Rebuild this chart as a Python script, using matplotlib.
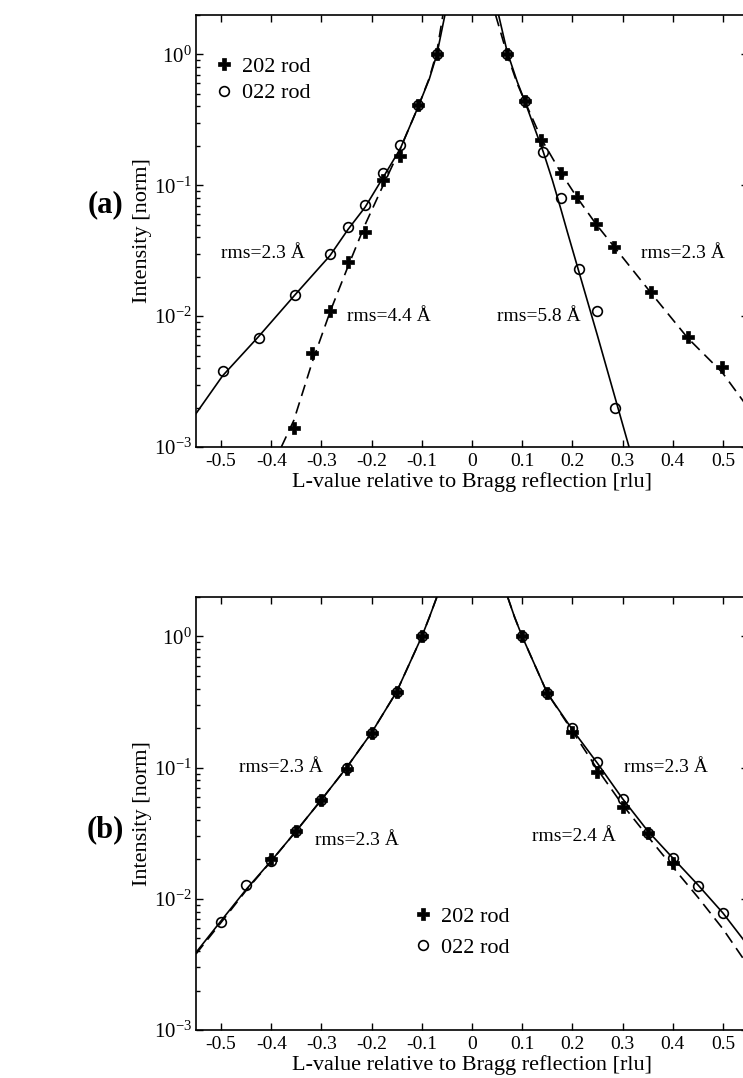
import numpy as np
import matplotlib
matplotlib.use('Agg')
import matplotlib.pyplot as plt
from matplotlib.ticker import LogLocator, FixedLocator, FormatStrFormatter, NullFormatter

plt.rcParams['font.family'] = ['Liberation Serif', 'DejaVu Serif']
plt.rcParams['mathtext.fontset'] = 'custom'
plt.rcParams['mathtext.rm'] = 'Liberation Serif'
plt.rcParams['mathtext.it'] = 'Liberation Serif:italic'
plt.rcParams['axes.unicode_minus'] = False

# ---- panel (a): measured points ----
a_022_x = [-0.497, -0.425, -0.353, -0.283, -0.247, -0.213, -0.177, -0.143, -0.107, -0.07,
           0.07, 0.105, 0.142, 0.177, 0.213, 0.25, 0.285]
a_022_y = [0.0038, 0.0068, 0.0146, 0.030, 0.048, 0.071, 0.123, 0.203, 0.41, 1.0,
           1.0, 0.44, 0.18, 0.080, 0.023, 0.0109, 0.0020]
a_202_x = [-0.355, -0.318, -0.282, -0.247, -0.213, -0.177, -0.143, -0.107, -0.07,
           0.07, 0.105, 0.137, 0.177, 0.21, 0.248, 0.283, 0.357, 0.43, 0.499]
a_202_y = [0.0014, 0.0052, 0.011, 0.026, 0.044, 0.11, 0.166, 0.41, 1.0,
           1.0, 0.44, 0.222, 0.123, 0.082, 0.051, 0.034, 0.0153, 0.0069, 0.0041]

# ---- panel (a): fitted curves ----
a_fit022_left_x = [-0.55, -0.497, -0.425, -0.353, -0.283, -0.247, -0.213, -0.177, -0.143, -0.107, -0.085, -0.07, -0.054]
a_fit022_left_y = [0.0018, 0.0035, 0.0070, 0.0145, 0.029, 0.046, 0.068, 0.115, 0.19, 0.40, 0.65, 1.0, 2.0]
a_fit202_left_x = [-0.38, -0.355, -0.318, -0.282, -0.247, -0.213, -0.177, -0.143, -0.107, -0.085, -0.07, -0.058]
a_fit202_left_y = [0.001, 0.0016, 0.0045, 0.011, 0.024, 0.05, 0.10, 0.19, 0.40, 0.66, 1.05, 2.0]
a_fit022_right_x = [0.053, 0.07, 0.09, 0.105, 0.142, 0.16, 0.177, 0.19, 0.25, 0.313]
a_fit022_right_y = [2.0, 1.05, 0.62, 0.44, 0.18, 0.11, 0.066, 0.044, 0.0071, 0.001]
a_fit202_right_x = [0.047, 0.07, 0.09, 0.105, 0.14, 0.177, 0.21, 0.248, 0.283, 0.357, 0.43, 0.499, 0.55]
a_fit202_right_y = [2.0, 1.0, 0.6, 0.44, 0.22, 0.125, 0.08, 0.05, 0.034, 0.015, 0.0068, 0.0037, 0.0020]

# ---- panel (b): measured points ----
b_022_x = [-0.5, -0.45, -0.4, -0.35, -0.3, -0.25, -0.2, -0.15, -0.1,
           0.1, 0.15, 0.2, 0.25, 0.3, 0.35, 0.4, 0.45, 0.5]
b_022_y = [0.0067, 0.0128, 0.0195, 0.033, 0.057, 0.10, 0.185, 0.38, 1.0,
           1.0, 0.37, 0.199, 0.111, 0.058, 0.032, 0.0204, 0.0126, 0.0078]
b_202_x = [-0.4, -0.35, -0.3, -0.25, -0.2, -0.15, -0.1,
           0.1, 0.15, 0.2, 0.25, 0.3, 0.35, 0.4]
b_202_y = [0.020, 0.033, 0.057, 0.097, 0.185, 0.38, 1.0,
           1.0, 0.37, 0.187, 0.093, 0.050, 0.032, 0.0187]

# ---- panel (b): fitted curves ----
b_fit022_left_x = [-0.55, -0.5, -0.45, -0.4, -0.35, -0.3, -0.25, -0.2, -0.15, -0.1, -0.085, -0.07]
b_fit022_left_y = [0.0039, 0.0068, 0.0118, 0.0195, 0.033, 0.057, 0.10, 0.185, 0.38, 1.0, 1.4, 2.0]
b_fit202_left_x = [-0.55, -0.5, -0.45, -0.4, -0.35, -0.3, -0.25, -0.2, -0.15, -0.1, -0.085, -0.07]
b_fit202_left_y = [0.0038, 0.0066, 0.0116, 0.0194, 0.033, 0.057, 0.10, 0.185, 0.38, 1.0, 1.4, 2.0]
b_fit022_right_x = [0.071, 0.085, 0.1, 0.15, 0.2, 0.25, 0.3, 0.35, 0.4, 0.45, 0.5, 0.55]
b_fit022_right_y = [2.0, 1.4, 1.0, 0.37, 0.195, 0.108, 0.058, 0.033, 0.0205, 0.0128, 0.0078, 0.0044]
b_fit202_right_x = [0.071, 0.085, 0.1, 0.15, 0.2, 0.25, 0.3, 0.35, 0.4, 0.45, 0.5, 0.55]
b_fit202_right_y = [2.0, 1.4, 1.0, 0.37, 0.19, 0.097, 0.052, 0.030, 0.0175, 0.0103, 0.0059, 0.0031]

xticks = [-0.5, -0.4, -0.3, -0.2, -0.1, 0, 0.1, 0.2, 0.3, 0.4, 0.5]

W, H = 743, 1078
fig = plt.figure(figsize=(W/100, H/100), dpi=100)
ax_a = fig.add_axes([196/W, (H-447)/H, 552/W, 432/H])
ax_b = fig.add_axes([196/W, (H-1030)/H, 552/W, 433/H])

lw = 1.2
dash = (0, (7, 4))
pt_kw = dict(color='k', linestyle='none')
plus_kw = dict(marker='P', markersize=8, markerfacecolor='k', markeredgecolor='k', markeredgewidth=0.5)
circ_kw = dict(marker='o', markersize=7, markerfacecolor='none', markeredgecolor='k', markeredgewidth=1.2)


def style(ax):
    ax.set_yscale('log')
    ax.set_xlim(-0.55, 0.55)
    ax.set_ylim(1e-3, 2)
    ax.xaxis.set_major_locator(FixedLocator(xticks))
    ax.xaxis.set_major_formatter(FormatStrFormatter('%g'))
    ax.yaxis.set_major_locator(LogLocator(base=10, numticks=10))
    ax.yaxis.set_minor_locator(LogLocator(base=10, subs=np.arange(2, 10), numticks=10))
    ax.yaxis.set_minor_formatter(NullFormatter())
    ax.tick_params(which='both', direction='in', top=True, right=True, width=1.0)
    ax.tick_params(which='major', length=5)
    ax.tick_params(which='minor', length=3)
    ax.tick_params(axis='x', labelsize=14, pad=4)
    ax.tick_params(axis='y', labelsize=15, pad=3)
    for s in ax.spines.values():
        s.set_linewidth(1.2)
    ax.set_xlabel('L-value relative to Bragg reflection [rlu]', fontsize=16, labelpad=2)
    ax.set_ylabel('Intensity [norm]', fontsize=16)
    ax.yaxis.set_label_coords(-0.08, 0.5)


# panel (a)
ax_a.plot(a_fit022_left_x, a_fit022_left_y, 'k-', lw=lw)
ax_a.plot(a_fit022_right_x, a_fit022_right_y, 'k-', lw=lw)
ax_a.plot(a_fit202_left_x, a_fit202_left_y, color='k', linestyle=dash, lw=lw)
ax_a.plot(a_fit202_right_x, a_fit202_right_y, color='k', linestyle=dash, lw=lw)
ax_a.plot(a_202_x, a_202_y, label='202 rod', **pt_kw, **plus_kw)
ax_a.plot(a_022_x, a_022_y, label='022 rod', **pt_kw, **circ_kw)
style(ax_a)
ax_a.legend(loc='upper left', bbox_to_anchor=(0.035, 0.905), frameon=False, fontsize=16,
            handlelength=0.8, handletextpad=0.4, labelspacing=0.28, borderpad=0, borderaxespad=0)
ax_a.text(-0.5, 0.030, 'rms=2.3 Å', fontsize=14, va='center')
ax_a.text(-0.25, 0.010, 'rms=4.4 Å', fontsize=14, va='center')
ax_a.text(0.05, 0.010, 'rms=5.8 Å', fontsize=14, va='center')
ax_a.text(0.336, 0.030, 'rms=2.3 Å', fontsize=14, va='center')

# panel (b)
ax_b.plot(b_fit022_left_x, b_fit022_left_y, 'k-', lw=lw)
ax_b.plot(b_fit022_right_x, b_fit022_right_y, 'k-', lw=lw)
ax_b.plot(b_fit202_left_x, b_fit202_left_y, color='k', linestyle=dash, lw=lw)
ax_b.plot(b_fit202_right_x, b_fit202_right_y, color='k', linestyle=dash, lw=lw)
ax_b.plot(b_202_x, b_202_y, label='202 rod', **pt_kw, **plus_kw)
ax_b.plot(b_022_x, b_022_y, label='022 rod', **pt_kw, **circ_kw)
style(ax_b)
ax_b.legend(loc='upper left', bbox_to_anchor=(0.395, 0.285), frameon=False, fontsize=16,
            handlelength=0.8, handletextpad=0.4, labelspacing=0.45, borderpad=0, borderaxespad=0)
ax_b.text(-0.464, 0.10, 'rms=2.3 Å', fontsize=14, va='center')
ax_b.text(-0.313, 0.028, 'rms=2.3 Å', fontsize=14, va='center')
ax_b.text(0.303, 0.10, 'rms=2.3 Å', fontsize=14, va='center')
ax_b.text(0.12, 0.030, 'rms=2.4 Å', fontsize=14, va='center')

fig.text(105/W, 1-205/H, '(a)', fontsize=22, fontweight='bold', ha='center', va='center')
fig.text(105/W, 1-830/H, '(b)', fontsize=22, fontweight='bold', ha='center', va='center')

fig.savefig('out.png', dpi=100)
